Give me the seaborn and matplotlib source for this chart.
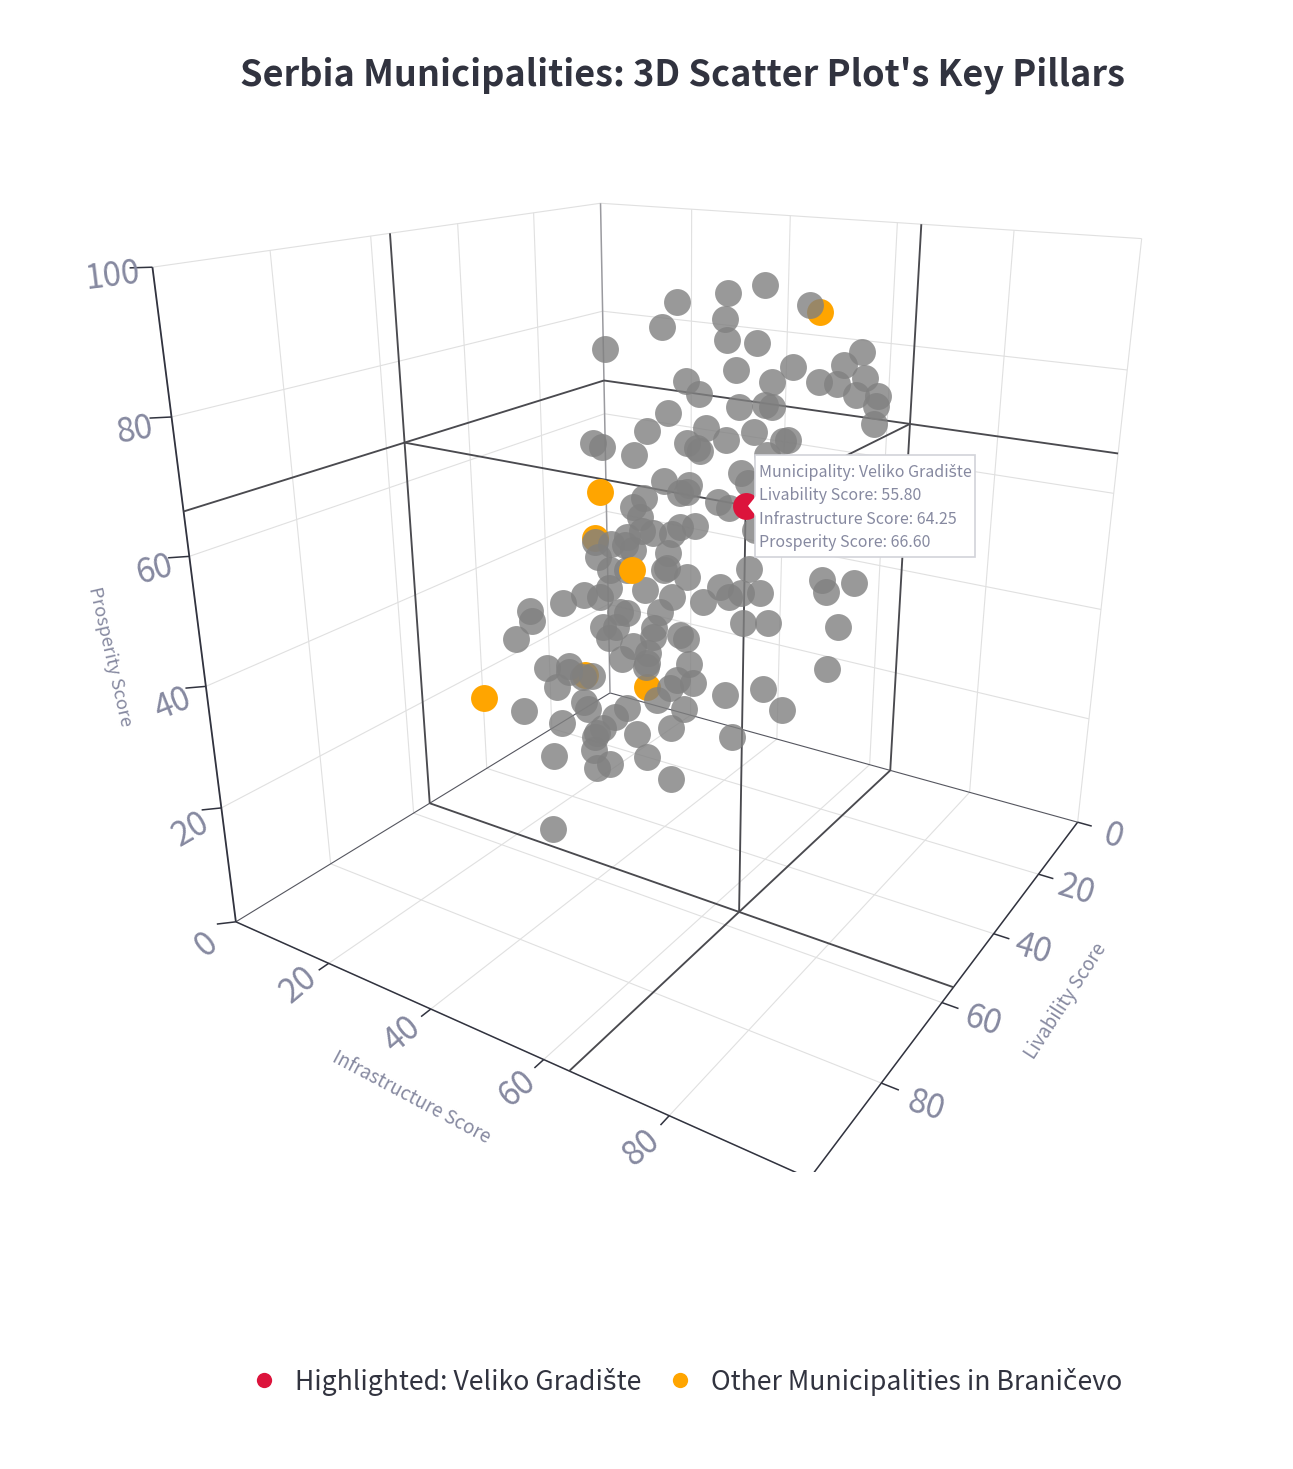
import numpy as np
import pandas as pd
import seaborn as sns
import matplotlib
matplotlib.use("Agg")
import matplotlib.pyplot as plt
from matplotlib.lines import Line2D
from matplotlib.patches import Polygon, Rectangle
from mpl_toolkits.mplot3d import proj3d

# Municipality scores: livability, infrastructure, prosperity
gray_liv = [79.7,68.8,58.7,67.0,80.8,92.8,85.6,82.6,94.9,71.7,71.3,75.8,80.6,67.2,71.0,68.9,75.5,83.6,80.5,65.1,62.7,61.1,74.7,72.5,71.4,80.6,58.0,74.5,79.8,69.0,70.5,64.0,64.4,73.9,72.0,71.2,83.2,
            81.7,77.3,63.5,62.8,60.1,69.7,66.2,65.7,65.1,59.6,57.1,68.7,68.2,65.5,57.2,58.8,62.9,62.4,60.7,58.2,65.6,54.5,63.4,62.2,61.5,59.5,49.1,40.2,51.1,51.0,46.3,55.7,57.8,39.3,35.2,34.7,32.0,
            27.0,22.7,21.4,37.5,43.1,48.6,53.8,52.8,55.3,56.2,58.6,55.9,53.6,40.7,45.1,46.3,25.4,21.5,9.1,44.6,42.8,40.7,37.0,34.5,31.1,28.9,34.8,30.3,32.5,27.3,26.1,20.2,41.1,38.4,36.6,31.7,32.8,
            33.7,7.7,16.4,14.7,12.6,12.4,2.2,10.7,12.1,3.9,14.5,13.2,31.1,24.2,21.0,20.3,23.2,22.3,21.1,14.7,11.1,9.4,28.6,33.2,33.2,33.8,29.7,30.1,58.0]
gray_inf = [68.3,68.7,68.3,79.3,75.5,74.7,78.7,80.8,68.6,88.7,86.2,81.8,77.0,87.1,82.8,84.2,78.9,72.0,71.8,85.0,86.9,85.9,74.0,76.3,76.8,67.5,84.3,69.2,63.9,72.9,69.7,75.1,74.6,66.0,66.3,66.3,58.1,
            58.4,60.2,71.8,67.5,67.0,59.7,61.4,59.6,60.4,62.0,62.3,55.8,53.6,52.9,56.8,55.2,48.9,51.1,51.9,53.5,45.2,50.4,46.3,43.1,47.5,47.5,62.0,56.0,48.0,47.3,48.5,43.7,42.1,50.2,49.6,51.5,53.5,
            62.1,60.8,65.2,46.0,43.6,42.1,38.9,36.5,35.3,31.7,27.0,25.2,19.8,39.7,36.2,35.7,46.6,49.3,56.6,31.0,32.3,29.3,36.1,34.2,37.4,37.3,30.2,30.3,26.1,27.9,26.9,32.4,16.1,18.9,17.5,18.9,17.7,
            12.4,54.1,27.4,24.6,28.5,20.1,29.4,42.6,47.5,20.9,14.5,10.6,2.2,11.3,9.8,2.8,14.9,12.8,11.4,16.9,22.5,35.3,16.7,10.7,23.6,21.1,29.4,34.9,29.6]
gray_pro = [98.7,98.3,98.0,97.5,97.5,98.3,96.2,95.6,95.6,93.6,91.7,91.8,91.7,89.5,89.2,88.7,89.6,90.4,88.2,86.8,86.4,84.7,85.8,85.9,85.5,85.4,81.5,82.4,82.5,81.3,80.1,79.4,79.3,79.9,78.9,78.3,80.9,
            80.1,78.3,76.8,73.6,71.4,72.9,71.8,70.2,70.3,67.8,66.3,69.6,67.9,65.6,62.7,62.7,61.2,62.4,61.7,61.2,60.5,56.6,59.8,56.8,59.3,58.0,60.7,50.8,52.7,52.2,49.9,53.0,53.3,46.3,43.2,44.1,43.6,
            46.1,42.4,44.4,42.3,44.5,47.1,48.5,46.2,47.1,45.3,43.7,40.7,35.5,40.3,40.8,41.3,34.6,33.9,30.5,37.1,36.7,33.4,35.4,32.5,32.4,30.8,30.0,27.1,25.7,23.5,22.0,21.7,24.8,24.9,22.7,20.4,20.3,
            17.4,21.2,15.9,12.9,14.1,8.3,7.7,15.6,13.1,3.2,6.0,2.5,8.9,10.3,7.2,2.1,5.4,3.4,1.6,1.1,2.4,3.2,3.5,2.6,4.6,3.3,6.1,3.3,5.1]

# Other municipalities in the Braničevo district
branicevo_liv = [73.2,74.5,66.4,55.1,33.1,19.0,41.8]
branicevo_inf = [83.8,52.7,45.8,44.2,18.4,22.3,1.8]
branicevo_pro = [98.0,71.5,61.5,52.9,21.0,14.1,15.7]
branicevo_on_top = [False,True,False,True,False,False,True]

# The highlighted municipality
hl_name = "Veliko Gradište"
hl_liv, hl_inf, hl_pro = 55.80, 64.25, 66.60

tick_values = [0,20,40,60,80]
pro_tick_values = [0,20,40,60,80,100]

TITLE = "Serbia Municipalities: 3D Scatter Plot's Key Pillars"
LEGEND_LABELS = [f"Highlighted: {hl_name}", "Other Municipalities in Braničevo"]

INK, MUTED, GRID, SPIKE = "#31333F", "#8689A0", "#E0E0E0", "#4A4A4F"
W, H = 1293, 1469
FONT = ["Noto Sans CJK SC", "DejaVu Sans"]

sns.set_theme(style="white")
plt.rcParams["font.family"] = FONT

others = pd.DataFrame({"liv": gray_liv, "inf": gray_inf, "pro": gray_pro})
district = pd.DataFrame({"liv": branicevo_liv, "inf": branicevo_inf, "pro": branicevo_pro,
                         "top": branicevo_on_top})

fig = plt.figure(figsize=(W / 100, H / 100), dpi=100, facecolor="white")
ax = fig.add_axes([18.37 / W, ((H - W) / 2 + 131.96) / H, 1, W / H],
                  projection="3d", computed_zorder=False)
ax.set_xlim(0, 100); ax.set_ylim(0, 100); ax.set_zlim(0, 100)
ax.view_init(20.428, 32.5645)
ax.set_proj_type("persp", focal_length=0.2046)
ax.set_box_aspect((1, 0.9987, 0.997), zoom=0.8522)
ax.set_axis_off()

clip = Rectangle((0, 1 - 1172 / H), 1, 1172 / H, transform=fig.transFigure)

def seg(a, b, color, lw, z=1):
    line, = ax.plot([a[0], b[0]], [a[1], b[1]], [a[2], b[2]], color=color, lw=lw, zorder=z,
                    solid_capstyle="butt")
    line.set_clip_path(clip)

# Wall and floor grids
for v in [20, 40, 60, 80, 100]:
    seg((v, 0, 0), (v, 0, 100), GRID, 0.8)
    seg((0, v, 0), (0, v, 100), GRID, 0.8)
    seg((v, 0, 0), (v, 100, 0), GRID, 0.8)
    seg((0, v, 0), (100, v, 0), GRID, 0.8)
    seg((0, 0, v), (100, 0, v), GRID, 0.8)
    seg((0, 0, v), (0, 100, v), GRID, 0.8)

# Zero lines along the far corner
seg((0, 0, 0), (100, 0, 0), "#55565F", 0.8)
seg((0, 0, 0), (0, 100, 0), "#55565F", 0.8)
seg((0, 0, 0), (0, 0, 100), "#9A9A9F", 1.1)

# Axis lines and tick marks
seg((100, 0, 0), (100, 0, 100), INK, 1.3, 2)
seg((100, 0, 0), (100, 100, 0), INK, 1.1, 2)
seg((0, 100, 0), (100, 100, 0), INK, 1.1, 2)
for v in pro_tick_values:
    seg((100, 0, v), (102, -2, v), INK, 1.1, 2)
for v in tick_values[1:]:
    seg((100, v, 0), (102, v, 0), INK, 1.1, 2)
for v in tick_values:
    seg((v, 100, 0), (v, 102.5, 0), INK, 1.1, 2)

# Crosshair spikes through the highlighted point
for a, b in [((hl_liv, hl_inf, hl_pro), (0, hl_inf, hl_pro)),
             ((hl_liv, hl_inf, hl_pro), (hl_liv, 0, hl_pro)),
             ((hl_liv, hl_inf, hl_pro), (hl_liv, hl_inf, 0)),
             ((hl_liv, 0, hl_pro), (0, 0, hl_pro)),
             ((hl_liv, 0, hl_pro), (100, 0, hl_pro)),
             ((hl_liv, 0, 0), (hl_liv, 0, 100)),
             ((0, hl_inf, hl_pro), (0, 0, hl_pro)),
             ((0, hl_inf, hl_pro), (0, 100, hl_pro)),
             ((0, hl_inf, 0), (0, hl_inf, 100)),
             ((0, hl_inf, 0), (100, hl_inf, 0)),
             ((hl_liv, 0, 0), (hl_liv, 100, 0))]:
    seg(a, b, SPIKE, 1.35, 3)

# Markers
SIZE = 375
under = district[~district["top"]]
above = district[district["top"]]
ax.scatter(under["liv"], under["inf"], under["pro"], s=SIZE, c="#FFA500", lw=0, depthshade=False, zorder=4)
ax.scatter(others["liv"], others["inf"], others["pro"], s=SIZE, c="#808080", alpha=0.8, lw=0,
           depthshade=False, zorder=5)
ax.scatter(above["liv"], above["inf"], above["pro"], s=SIZE, c="#FFA500", lw=0, depthshade=False, zorder=6)
ax.scatter([hl_liv], [hl_inf], [hl_pro], s=SIZE, c="#DC143C", lw=0, depthshade=False, zorder=7)

# Tick labels sit next to the projected tick positions
M = ax.get_proj()

def tick_label(pos, text, offset, angle):
    x, y, _ = proj3d.proj_transform(pos[0], pos[1], pos[2], M)
    ax.annotate(text, xy=(x, y), xycoords="data", xytext=offset, textcoords="offset pixels",
                ha="center", va="center", rotation=angle, rotation_mode="anchor",
                fontsize=24, color=MUTED, annotation_clip=False)

pro_offsets = [(-30, -23), (-31, -22), (-33, -18), (-35, -14), (-37, -13), (-40, -9)]
pro_angles = [40, 30, 22, 15, 10, 7]
for v, off, ang in zip(pro_tick_values, pro_offsets, pro_angles):
    tick_label((100, 0, v), str(v), off, ang)
inf_offsets = [(-30, -22), (-28, -26), (-27, -29), (-28, -32)]
for v, off in zip(tick_values[1:], inf_offsets):
    tick_label((100, v, 0), str(v), off, 40)
liv_offsets = [(35, -14), (38, -16), (39, -16), (41, -19), (45, -23)]
for v, off in zip(tick_values, liv_offsets):
    tick_label((v, 100, 0), str(v), off, -17)

def ptext(x, y, s, **kw):
    return fig.text(x / W, 1 - y / H, s, **kw)

ptext(110, 657, "Prosperity Score", fontsize=13.3, color=MUTED, rotation=-77,
      ha="center", va="center", rotation_mode="anchor")
ptext(411, 1097, "Infrastructure Score", fontsize=13.5, color=MUTED, rotation=-28,
      ha="center", va="center", rotation_mode="anchor")
ptext(1066, 1001, "Livability Score", fontsize=13.5, color=MUTED, rotation=57,
      ha="center", va="center", rotation_mode="anchor")

ptext(682.5, 75, TITLE, fontsize=26, weight="bold", color=INK, ha="center", va="center")

# Hover label attached to the highlighted point
px = fig.transFigure
def frac(x, y):
    return (x / W, 1 - y / H)
fig.add_artist(Rectangle(frac(755, 557), 220 / W, 102 / H, transform=px, facecolor="white",
                         edgecolor="#D2D3D9", lw=1.2, zorder=8))
fig.add_artist(Polygon([frac(756, 496), frac(748, 506), frac(756, 516)], closed=True, transform=px,
                       facecolor="white", edgecolor="none", zorder=9))
hover_lines = [f"Municipality: {hl_name}", f"Livability Score: {hl_liv:.2f}",
               f"Infrastructure Score: {hl_inf:.2f}", f"Prosperity Score: {hl_pro:.2f}"]
for i, s in enumerate(hover_lines):
    ptext(759, 472.5 + i * 23.3, s, fontsize=11.5, color=MUTED, ha="left", va="center", zorder=10)

handles = [Line2D([], [], ls="", marker="o", ms=11, mfc=c, mec="none") for c in ("#DC143C", "#FFA500")]
fig.legend(handles, LEGEND_LABELS, loc="center", bbox_to_anchor=(686.5 / W, 1 - 1381.5 / H), ncol=2,
           frameon=False, fontsize=19.1, labelcolor=INK, handlelength=1, handletextpad=0.67,
           columnspacing=0.93)

fig.savefig("out.png", dpi=100, facecolor="white")
